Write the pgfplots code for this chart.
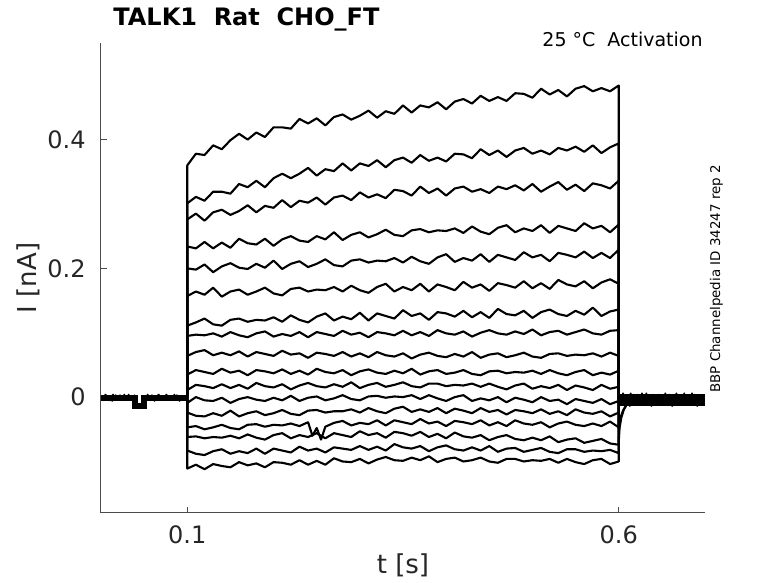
\documentclass[border=0pt]{standalone}
\usepackage{pgfplots}
\pgfplotsset{compat=1.18}
\usepackage{fontspec}
\setmainfont{DejaVu Sans}
\begin{document}
\begin{tikzpicture}
\useasboundingbox (-50.5pt,-35pt) rectangle (338.5pt,256.5pt);
\begin{axis}[
  at={(0pt,0pt)}, anchor=south west,
  scale only axis, width=302pt, height=235pt,
  xmin=0, xmax=0.7, ymin=-0.18, ymax=0.55,
  axis x line*=bottom, axis y line*=left,
  axis line style={black!70, line width=0.5pt},
  tick style={black!70, line width=0.5pt},
  tick align=inside, major tick length=3pt,
  xtick={0.1,0.6}, ytick={0,0.2,0.4},
  xticklabels={0.1,0.6}, yticklabels={0,0.2,0.4},
  tick label style={font=\fontsize{12}{14}\selectfont, text=black!85, inner sep=0pt},
  yticklabel style={anchor=east, xshift=-7.5pt},
  xticklabel style={anchor=north, yshift=-6pt},
  tr/.style={black, line width=1.05pt, line join=round},
]
% baseline before the step
\addplot[black, line width=3pt] coordinates {(0,-.001)(0.0397,-.001)(0.0397,-.014)(0.0497,-.014)(0.0497,-.001)(0.100,-.001)};
\addplot[tr, line width=0.8pt] coordinates {(0,-.001)(0.002,.002)(0.004,-.003)(0.006,.003)(0.008,-.002)(0.010,-.005)(0.012,.001)(0.014,.004)(0.016,-.004)(0.018,.000)(0.020,-.003)(0.022,.003)(0.024,-.005)(0.026,.002)(0.028,-.001)(0.030,-.004)(0.032,.004)(0.034,-.002)(0.036,.001)(0.038,-.006)(0.0395,-.004)(0.040,-.013)(0.042,-.016)(0.044,-.012)(0.046,-.017)(0.048,-.013)(0.0495,-.015)(0.050,.001)(0.052,-.005)(0.054,.004)(0.056,-.001)(0.058,-.003)(0.060,.002)(0.062,-.006)(0.064,.000)(0.066,.003)(0.068,-.002)(0.070,-.004)(0.072,.001)(0.074,-.003)(0.076,.004)(0.078,-.005)(0.080,.000)(0.082,.002)(0.084,-.004)(0.086,-.001)(0.088,.003)(0.090,-.003)(0.092,-.005)(0.094,.001)(0.096,.002)(0.098,-.002)(0.100,.000)};
\addplot[tr, line width=0.8pt] coordinates {(0.001,.001)(0.003,-.005)(0.005,.004)(0.007,-.001)(0.009,-.003)(0.011,.002)(0.013,-.006)(0.015,.000)(0.017,.003)(0.019,-.002)(0.021,-.004)(0.023,.001)(0.025,-.003)(0.027,.004)(0.029,-.005)(0.031,.000)(0.033,.002)(0.035,-.004)(0.037,-.001)(0.039,.003)(0.0399,-.005)(0.041,-.014)(0.043,-.012)(0.045,-.017)(0.047,-.013)(0.049,-.016)(0.0501,-.003)(0.051,.000)(0.053,-.001)(0.055,.002)(0.057,-.003)(0.059,.003)(0.061,-.002)(0.063,-.005)(0.065,.001)(0.067,.004)(0.069,-.004)(0.071,.000)(0.073,-.003)(0.075,.003)(0.077,-.005)(0.079,.002)(0.081,-.001)(0.083,-.004)(0.085,.004)(0.087,-.002)(0.089,.001)(0.091,-.006)(0.093,.002)(0.095,.000)(0.097,-.003)(0.099,.003)};
% traces during the step
\addplot[tr] coordinates {(0.1,0)(0.10,.360)(0.11,.378)(0.12,.376)(0.13,.391)(0.14,.385)(0.15,.399)(0.16,.409)(0.17,.400)(0.18,.411)(0.19,.404)(0.20,.419)(0.21,.419)(0.22,.417)(0.23,.432)(0.24,.425)(0.25,.433)(0.26,.422)(0.27,.435)(0.28,.439)(0.29,.431)(0.30,.437)(0.31,.445)(0.32,.434)(0.33,.444)(0.34,.440)(0.35,.453)(0.36,.442)(0.37,.453)(0.38,.450)(0.39,.458)(0.40,.447)(0.41,.459)(0.42,.463)(0.43,.456)(0.44,.468)(0.45,.460)(0.46,.466)(0.47,.460)(0.48,.472)(0.49,.471)(0.50,.465)(0.51,.479)(0.52,.470)(0.53,.477)(0.54,.467)(0.55,.479)(0.56,.483)(0.57,.475)(0.58,.480)(0.59,.475)(0.60,.484)(0.6,-.004)};
\addplot[tr] coordinates {(0.1,0)(0.10,.301)(0.11,.311)(0.12,.305)(0.13,.319)(0.14,.319)(0.15,.316)(0.16,.331)(0.17,.326)(0.18,.336)(0.19,.326)(0.20,.340)(0.21,.347)(0.22,.340)(0.23,.347)(0.24,.356)(0.25,.344)(0.26,.354)(0.27,.351)(0.28,.363)(0.29,.352)(0.30,.363)(0.31,.359)(0.32,.368)(0.33,.357)(0.34,.368)(0.35,.372)(0.36,.364)(0.37,.376)(0.38,.367)(0.39,.372)(0.40,.366)(0.41,.378)(0.42,.377)(0.43,.371)(0.44,.385)(0.45,.376)(0.46,.383)(0.47,.373)(0.48,.383)(0.49,.387)(0.50,.378)(0.51,.383)(0.52,.377)(0.53,.387)(0.54,.383)(0.55,.389)(0.56,.381)(0.57,.391)(0.58,.379)(0.59,.388)(0.60,.394)(0.6,-.004)};
\addplot[tr] coordinates {(0.1,0)(0.10,.276)(0.11,.285)(0.12,.274)(0.13,.287)(0.14,.291)(0.15,.283)(0.16,.289)(0.17,.298)(0.18,.287)(0.19,.297)(0.20,.294)(0.21,.306)(0.22,.295)(0.23,.305)(0.24,.302)(0.25,.310)(0.26,.299)(0.27,.310)(0.28,.313)(0.29,.306)(0.30,.318)(0.31,.310)(0.32,.315)(0.33,.309)(0.34,.322)(0.35,.320)(0.36,.313)(0.37,.327)(0.38,.317)(0.39,.324)(0.40,.313)(0.41,.324)(0.42,.327)(0.43,.319)(0.44,.323)(0.45,.317)(0.46,.327)(0.47,.323)(0.48,.329)(0.49,.321)(0.50,.331)(0.51,.319)(0.52,.327)(0.53,.334)(0.54,.322)(0.55,.330)(0.56,.320)(0.57,.332)(0.58,.329)(0.59,.324)(0.60,.336)(0.6,-.004)};
\addplot[tr] coordinates {(0.1,0)(0.10,.234)(0.11,.231)(0.12,.241)(0.13,.231)(0.14,.240)(0.15,.232)(0.16,.246)(0.17,.239)(0.18,.237)(0.19,.246)(0.20,.235)(0.21,.245)(0.22,.250)(0.23,.243)(0.24,.241)(0.25,.250)(0.26,.245)(0.27,.256)(0.28,.244)(0.29,.252)(0.30,.256)(0.31,.248)(0.32,.253)(0.33,.260)(0.34,.252)(0.35,.250)(0.36,.259)(0.37,.261)(0.38,.256)(0.39,.259)(0.40,.258)(0.41,.262)(0.42,.255)(0.43,.265)(0.44,.257)(0.45,.253)(0.46,.263)(0.47,.267)(0.48,.256)(0.49,.262)(0.50,.258)(0.51,.267)(0.52,.255)(0.53,.266)(0.54,.262)(0.55,.258)(0.56,.270)(0.57,.262)(0.58,.266)(0.59,.256)(0.60,.268)(0.6,-.004)};
\addplot[tr] coordinates {(0.1,0)(0.10,.200)(0.11,.198)(0.12,.206)(0.13,.194)(0.14,.203)(0.15,.208)(0.16,.201)(0.17,.199)(0.18,.207)(0.19,.201)(0.20,.212)(0.21,.199)(0.22,.207)(0.23,.211)(0.24,.202)(0.25,.207)(0.26,.214)(0.27,.205)(0.28,.203)(0.29,.212)(0.30,.214)(0.31,.209)(0.32,.212)(0.33,.211)(0.34,.216)(0.35,.209)(0.36,.218)(0.37,.211)(0.38,.207)(0.39,.217)(0.40,.222)(0.41,.210)(0.42,.216)(0.43,.212)(0.44,.222)(0.45,.210)(0.46,.221)(0.47,.217)(0.48,.213)(0.49,.225)(0.50,.217)(0.51,.221)(0.52,.211)(0.53,.224)(0.54,.221)(0.55,.217)(0.56,.226)(0.57,.216)(0.58,.224)(0.59,.216)(0.60,.229)(0.6,-.004)};
\addplot[tr] coordinates {(0.1,0)(0.10,.157)(0.11,.164)(0.12,.159)(0.13,.170)(0.14,.156)(0.15,.164)(0.16,.167)(0.17,.159)(0.18,.164)(0.19,.170)(0.20,.161)(0.21,.158)(0.22,.168)(0.23,.170)(0.24,.164)(0.25,.167)(0.26,.166)(0.27,.171)(0.28,.164)(0.29,.173)(0.30,.166)(0.31,.162)(0.32,.171)(0.33,.176)(0.34,.164)(0.35,.171)(0.36,.166)(0.37,.176)(0.38,.164)(0.39,.175)(0.40,.171)(0.41,.166)(0.42,.179)(0.43,.170)(0.44,.175)(0.45,.165)(0.46,.177)(0.47,.174)(0.48,.170)(0.49,.180)(0.50,.169)(0.51,.177)(0.52,.168)(0.53,.182)(0.54,.175)(0.55,.172)(0.56,.180)(0.57,.169)(0.58,.178)(0.59,.183)(0.60,.176)(0.6,-.004)};
\addplot[tr] coordinates {(0.1,0)(0.10,.111)(0.11,.116)(0.12,.122)(0.13,.113)(0.14,.111)(0.15,.120)(0.16,.122)(0.17,.117)(0.18,.120)(0.19,.119)(0.20,.124)(0.21,.117)(0.22,.127)(0.23,.120)(0.24,.116)(0.25,.125)(0.26,.130)(0.27,.119)(0.28,.125)(0.29,.121)(0.30,.131)(0.31,.119)(0.32,.130)(0.33,.126)(0.34,.122)(0.35,.135)(0.36,.126)(0.37,.130)(0.38,.120)(0.39,.132)(0.40,.130)(0.41,.125)(0.42,.134)(0.43,.124)(0.44,.132)(0.45,.123)(0.46,.137)(0.47,.129)(0.48,.127)(0.49,.134)(0.50,.123)(0.51,.132)(0.52,.136)(0.53,.129)(0.54,.126)(0.55,.134)(0.56,.128)(0.57,.139)(0.58,.126)(0.59,.133)(0.60,.136)(0.6,-.004)};
\addplot[tr] coordinates {(0.1,0)(0.10,.095)(0.11,.097)(0.12,.096)(0.13,.099)(0.14,.094)(0.15,.101)(0.16,.096)(0.17,.093)(0.18,.099)(0.19,.102)(0.20,.094)(0.21,.098)(0.22,.095)(0.23,.101)(0.24,.093)(0.25,.101)(0.26,.098)(0.27,.095)(0.28,.103)(0.29,.097)(0.30,.100)(0.31,.093)(0.32,.101)(0.33,.099)(0.34,.096)(0.35,.103)(0.36,.096)(0.37,.101)(0.38,.095)(0.39,.104)(0.40,.099)(0.41,.097)(0.42,.102)(0.43,.094)(0.44,.100)(0.45,.104)(0.46,.099)(0.47,.097)(0.48,.102)(0.49,.098)(0.50,.105)(0.51,.096)(0.52,.101)(0.53,.103)(0.54,.097)(0.55,.101)(0.56,.105)(0.57,.099)(0.58,.097)(0.59,.103)(0.60,.104)(0.6,-.004)};
\addplot[tr] coordinates {(0.1,0)(0.10,.064)(0.11,.070)(0.12,.073)(0.13,.065)(0.14,.069)(0.15,.065)(0.16,.071)(0.17,.063)(0.18,.070)(0.19,.067)(0.20,.064)(0.21,.072)(0.22,.066)(0.23,.068)(0.24,.061)(0.25,.069)(0.26,.067)(0.27,.064)(0.28,.070)(0.29,.063)(0.30,.068)(0.31,.062)(0.32,.070)(0.33,.065)(0.34,.063)(0.35,.068)(0.36,.060)(0.37,.066)(0.38,.069)(0.39,.064)(0.40,.062)(0.41,.067)(0.42,.063)(0.43,.070)(0.44,.061)(0.45,.066)(0.46,.068)(0.47,.062)(0.48,.065)(0.49,.069)(0.50,.063)(0.51,.061)(0.52,.067)(0.53,.068)(0.54,.064)(0.55,.066)(0.56,.065)(0.57,.068)(0.58,.063)(0.59,.069)(0.60,.064)(0.6,-.004)};
\addplot[tr] coordinates {(0.1,0)(0.10,.035)(0.11,.042)(0.12,.039)(0.13,.036)(0.14,.044)(0.15,.038)(0.16,.041)(0.17,.034)(0.18,.042)(0.19,.040)(0.20,.037)(0.21,.043)(0.22,.036)(0.23,.041)(0.24,.035)(0.25,.044)(0.26,.039)(0.27,.037)(0.28,.042)(0.29,.034)(0.30,.040)(0.31,.043)(0.32,.038)(0.33,.036)(0.34,.041)(0.35,.037)(0.36,.044)(0.37,.035)(0.38,.040)(0.39,.042)(0.40,.036)(0.41,.038)(0.42,.042)(0.43,.036)(0.44,.034)(0.45,.040)(0.46,.041)(0.47,.037)(0.48,.039)(0.49,.038)(0.50,.041)(0.51,.036)(0.52,.042)(0.53,.037)(0.54,.034)(0.55,.039)(0.56,.042)(0.57,.034)(0.58,.038)(0.59,.035)(0.60,.041)(0.6,-.004)};
\addplot[tr] coordinates {(0.1,0)(0.10,.011)(0.11,.019)(0.12,.017)(0.13,.014)(0.14,.020)(0.15,.014)(0.16,.019)(0.17,.013)(0.18,.022)(0.19,.017)(0.20,.015)(0.21,.020)(0.22,.012)(0.23,.018)(0.24,.022)(0.25,.017)(0.26,.015)(0.27,.020)(0.28,.016)(0.29,.023)(0.30,.014)(0.31,.019)(0.32,.022)(0.33,.016)(0.34,.019)(0.35,.023)(0.36,.017)(0.37,.015)(0.38,.021)(0.39,.021)(0.40,.017)(0.41,.019)(0.42,.018)(0.43,.021)(0.44,.016)(0.45,.021)(0.46,.016)(0.47,.012)(0.48,.018)(0.49,.021)(0.50,.013)(0.51,.017)(0.52,.014)(0.53,.019)(0.54,.011)(0.55,.018)(0.56,.015)(0.57,.011)(0.58,.019)(0.59,.013)(0.60,.016)(0.6,-.004)};
\addplot[tr] coordinates {(0.1,0)(0.10,-.009)(0.11,.000)(0.12,-.005)(0.13,-.006)(0.14,-.001)(0.15,-.009)(0.16,-.003)(0.17,.000)(0.18,-.004)(0.19,-.006)(0.20,-.001)(0.21,-.005)(0.22,.002)(0.23,-.006)(0.24,-.001)(0.25,.001)(0.26,-.005)(0.27,-.002)(0.28,.003)(0.29,-.003)(0.30,-.005)(0.31,.001)(0.32,.002)(0.33,-.001)(0.34,.001)(0.35,.000)(0.36,.003)(0.37,-.003)(0.38,.003)(0.39,-.002)(0.40,-.006)(0.41,.000)(0.42,.003)(0.43,-.006)(0.44,-.002)(0.45,-.005)(0.46,.000)(0.47,-.008)(0.48,-.001)(0.49,-.004)(0.50,-.008)(0.51,.000)(0.52,-.006)(0.53,-.004)(0.54,-.011)(0.55,-.003)(0.56,-.006)(0.57,-.009)(0.58,-.003)(0.59,-.011)(0.60,-.006)(0.6,-.004)};
\addplot[tr] coordinates {(0.1,0)(0.10,-.024)(0.11,-.029)(0.12,-.030)(0.13,-.025)(0.14,-.029)(0.15,-.021)(0.16,-.030)(0.17,-.025)(0.18,-.022)(0.19,-.028)(0.20,-.025)(0.21,-.020)(0.22,-.026)(0.23,-.028)(0.24,-.021)(0.25,-.020)(0.26,-.024)(0.27,-.022)(0.28,-.022)(0.29,-.019)(0.30,-.024)(0.31,-.017)(0.32,-.022)(0.33,-.025)(0.34,-.018)(0.35,-.015)(0.36,-.023)(0.37,-.019)(0.38,-.023)(0.39,-.017)(0.40,-.025)(0.41,-.018)(0.42,-.021)(0.43,-.025)(0.44,-.017)(0.45,-.023)(0.46,-.020)(0.47,-.027)(0.48,-.020)(0.49,-.022)(0.50,-.025)(0.51,-.019)(0.52,-.026)(0.53,-.022)(0.54,-.028)(0.55,-.019)(0.56,-.024)(0.57,-.026)(0.58,-.022)(0.59,-.030)(0.60,-.024)(0.6,-.004)};
\addplot[tr] coordinates {(0.1,0)(0.10,-.047)(0.11,-.045)(0.12,-.050)(0.13,-.047)(0.14,-.043)(0.15,-.048)(0.16,-.050)(0.17,-.043)(0.18,-.042)(0.19,-.046)(0.20,-.043)(0.21,-.044)(0.22,-.041)(0.23,-.045)(0.24,-.039)(0.245,-.060)(0.25,-.048)(0.255,-.066)(0.26,-.046)(0.27,-.040)(0.28,-.037)(0.29,-.044)(0.30,-.040)(0.31,-.042)(0.32,-.036)(0.33,-.044)(0.34,-.036)(0.35,-.039)(0.36,-.042)(0.37,-.034)(0.38,-.041)(0.39,-.038)(0.40,-.045)(0.41,-.037)(0.42,-.039)(0.43,-.042)(0.44,-.036)(0.45,-.044)(0.46,-.039)(0.47,-.045)(0.48,-.036)(0.49,-.041)(0.50,-.043)(0.51,-.039)(0.52,-.047)(0.53,-.041)(0.54,-.038)(0.55,-.043)(0.56,-.045)(0.57,-.041)(0.58,-.045)(0.59,-.038)(0.60,-.047)(0.6,-.004)};
\addplot[tr] coordinates {(0.1,0)(0.10,-.062)(0.11,-.061)(0.12,-.064)(0.13,-.062)(0.14,-.063)(0.15,-.060)(0.16,-.064)(0.17,-.058)(0.18,-.063)(0.19,-.066)(0.20,-.059)(0.21,-.056)(0.22,-.064)(0.23,-.059)(0.24,-.062)(0.25,-.056)(0.26,-.064)(0.27,-.056)(0.28,-.059)(0.29,-.062)(0.30,-.053)(0.31,-.059)(0.32,-.056)(0.33,-.063)(0.34,-.054)(0.35,-.056)(0.36,-.060)(0.37,-.054)(0.38,-.062)(0.39,-.057)(0.40,-.064)(0.41,-.055)(0.42,-.061)(0.43,-.063)(0.44,-.059)(0.45,-.067)(0.46,-.062)(0.47,-.059)(0.48,-.065)(0.49,-.067)(0.50,-.063)(0.51,-.067)(0.52,-.061)(0.53,-.070)(0.54,-.066)(0.55,-.064)(0.56,-.071)(0.57,-.068)(0.58,-.065)(0.59,-.072)(0.60,-.074)(0.6,-.004)};
\addplot[tr] coordinates {(0.1,0)(0.10,-.083)(0.11,-.088)(0.12,-.090)(0.13,-.084)(0.14,-.081)(0.15,-.088)(0.16,-.084)(0.17,-.087)(0.18,-.080)(0.19,-.088)(0.20,-.080)(0.21,-.083)(0.22,-.086)(0.23,-.077)(0.24,-.083)(0.25,-.080)(0.26,-.086)(0.27,-.078)(0.28,-.080)(0.29,-.082)(0.30,-.076)(0.31,-.082)(0.32,-.077)(0.33,-.083)(0.34,-.073)(0.35,-.078)(0.36,-.080)(0.37,-.076)(0.38,-.084)(0.39,-.078)(0.40,-.075)(0.41,-.081)(0.42,-.083)(0.43,-.078)(0.44,-.083)(0.45,-.076)(0.46,-.085)(0.47,-.080)(0.48,-.079)(0.49,-.085)(0.50,-.082)(0.51,-.079)(0.52,-.085)(0.53,-.087)(0.54,-.081)(0.55,-.081)(0.56,-.085)(0.57,-.083)(0.58,-.084)(0.59,-.082)(0.60,-.087)(0.6,-.004)};
\addplot[tr] coordinates {(0.1,0)(0.10,-.111)(0.11,-.105)(0.12,-.112)(0.13,-.104)(0.14,-.107)(0.15,-.109)(0.16,-.101)(0.17,-.106)(0.18,-.103)(0.19,-.109)(0.20,-.101)(0.21,-.102)(0.22,-.105)(0.23,-.098)(0.24,-.105)(0.25,-.099)(0.26,-.105)(0.27,-.095)(0.28,-.100)(0.29,-.101)(0.30,-.096)(0.31,-.103)(0.32,-.097)(0.33,-.093)(0.34,-.098)(0.35,-.099)(0.36,-.094)(0.37,-.098)(0.38,-.092)(0.39,-.101)(0.40,-.096)(0.41,-.094)(0.42,-.100)(0.43,-.098)(0.44,-.094)(0.45,-.100)(0.46,-.102)(0.47,-.096)(0.48,-.096)(0.49,-.100)(0.50,-.098)(0.51,-.099)(0.52,-.096)(0.53,-.102)(0.54,-.096)(0.55,-.101)(0.56,-.104)(0.57,-.098)(0.58,-.096)(0.59,-.104)(0.60,-.100)(0.6,-.004)};
% tail after the step
\addplot[black, line width=6pt] coordinates {(0.6005,-.004)(0.700,-.004)};
\addplot[tr] coordinates {(0.6,-.070)(0.601,-.048)(0.603,-.032)(0.606,-.019)(0.610,-.010)(0.615,-.006)};
\addplot[tr] coordinates {(0.6,-.050)(0.602,-.032)(0.605,-.021)(0.609,-.012)(0.614,-.007)};
\addplot[tr, line width=0.8pt] coordinates {(0.600,-.004)(0.602,.002)(0.604,-.008)(0.606,.004)(0.608,-.006)(0.610,-.012)(0.612,.000)(0.614,.006)(0.616,-.010)(0.618,-.002)(0.620,-.008)(0.622,.004)(0.624,-.012)(0.626,.002)(0.628,-.004)(0.630,-.010)(0.632,.006)(0.634,-.006)(0.636,.000)(0.638,-.014)(0.640,.002)(0.642,-.002)(0.644,-.008)(0.646,.004)(0.648,-.010)(0.650,.000)(0.652,-.012)(0.654,.006)(0.656,-.004)(0.658,-.008)(0.660,.002)(0.662,-.014)(0.664,-.002)(0.666,.004)(0.668,-.006)(0.670,-.010)(0.672,.000)(0.674,-.008)(0.676,.006)(0.678,-.012)(0.680,-.002)(0.682,.002)(0.684,-.010)(0.686,-.004)(0.688,.004)(0.690,-.008)(0.692,-.012)(0.694,.000)(0.696,.002)(0.698,-.006)(0.700,-.002)};
\addplot[tr, line width=0.8pt] coordinates {(0.601,.000)(0.603,-.012)(0.605,.006)(0.607,-.004)(0.609,-.008)(0.611,.002)(0.613,-.014)(0.615,-.002)(0.617,.004)(0.619,-.006)(0.621,-.010)(0.623,.000)(0.625,-.008)(0.627,.006)(0.629,-.012)(0.631,-.002)(0.633,.002)(0.635,-.010)(0.637,-.004)(0.639,.004)(0.641,-.008)(0.643,-.012)(0.645,.000)(0.647,.002)(0.649,-.006)(0.651,-.002)(0.653,-.004)(0.655,.002)(0.657,-.008)(0.659,.004)(0.661,-.006)(0.663,-.012)(0.665,.000)(0.667,.006)(0.669,-.010)(0.671,-.002)(0.673,-.008)(0.675,.004)(0.677,-.012)(0.679,.002)(0.681,-.004)(0.683,-.010)(0.685,.006)(0.687,-.006)(0.689,.000)(0.691,-.014)(0.693,.002)(0.695,-.002)(0.697,-.008)(0.699,.004)};
\end{axis}
% labels and annotations
\node[anchor=north, inner sep=0pt, font=\fontsize{13}{15}\selectfont, text=black!85] at (151pt,-20pt) {t [s]};
\node[anchor=south, rotate=90, inner sep=0pt, font=\fontsize{13}{15}\selectfont, text=black!85] at (-30.5pt,117.5pt) {I [nA]};
\node[anchor=base west, inner sep=0pt, font=\fontsize{12}{14}\selectfont\bfseries] at (6pt,243.5pt) {TALK1~~Rat~~CHO\_FT};
\node[anchor=base east, inner sep=0pt, font=\fontsize{9.5}{11}\selectfont] at (301pt,233pt) {25 °C~~Activation};
\node[anchor=base west, rotate=90, inner sep=0pt, font=\fontsize{6.7}{8}\selectfont] at (309.5pt,60pt) {BBP Channelpedia ID 34247 rep 2};
\end{tikzpicture}
\end{document}
